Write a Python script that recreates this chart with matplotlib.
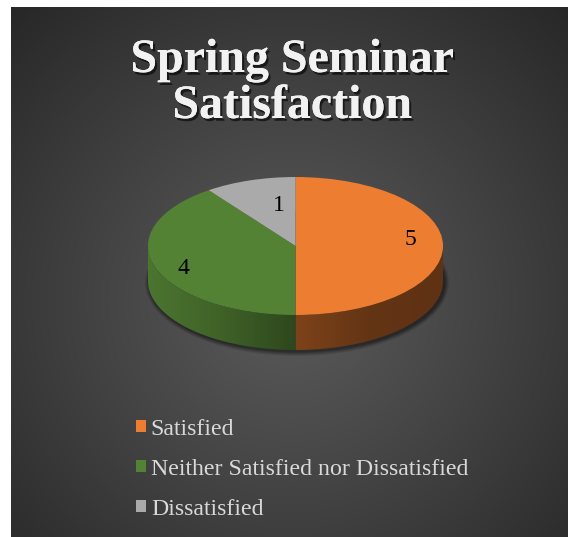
import numpy as np
import matplotlib
matplotlib.use("Agg")
import matplotlib.pyplot as plt
import matplotlib.patheffects as pe
from matplotlib.patches import Polygon, Ellipse, Rectangle
from matplotlib.colors import to_rgb
from matplotlib.font_manager import FontProperties, findfont

# data
categories = ["Satisfied", "Neither Satisfied nor Dissatisfied", "Dissatisfied"]
values = [5, 4, 1]
colors = ["#ED7D31", "#548235", "#AAAAAA"]
title_lines = ["Spring Seminar", "Satisfaction"]

W, H = 568, 537
serif_reg = findfont(FontProperties(family="Liberation Serif"))
serif_bold = findfont(FontProperties(family="Liberation Serif", weight="bold"))
fp_title = FontProperties(fname=serif_bold, size=34.5)
fp_label = FontProperties(fname=serif_reg, size=17)
fp_legend = FontProperties(fname=serif_reg, size=17.2)

fig = plt.figure(figsize=(W / 100, H / 100), dpi=100)
fig.patch.set_facecolor("white")

# background panel in pixel coordinates
bg = fig.add_axes([0, 0, 1, 1])
bg.set_xlim(0, W)
bg.set_ylim(H, 0)
bg.axis("off")
yy, xx = np.mgrid[0:H, 0:W]
d = np.sqrt((xx - 290) ** 2 + (yy - 300) ** 2)
t = np.clip(d / 420, 0, 1) ** 1.1
inner, outer = 0x5a / 255, 0x25 / 255
v = inner + (outer - inner) * t
img = np.dstack([v, v, v])
im = bg.imshow(img, extent=[0, W, H, 0], zorder=0)
panel = Rectangle((11, 7), W - 11, H - 7, transform=bg.transData, facecolor="none", edgecolor="none")
bg.add_patch(panel)
im.set_clip_path(panel)

# title
for txt, yb in zip(title_lines, [72, 118]):
    bg.text(292, yb, txt, ha="center", va="baseline", fontproperties=fp_title,
            color="#f2f2f2", zorder=5,
            path_effects=[pe.withSimplePatchShadow(offset=(1.5, -2), shadow_rgbFace="black", alpha=0.6),
                          pe.Normal()])

# pie axes: x in [-1, 1] maps to px 148..443, ry = 69 px, center y = 246 px
cx, cy, rx, ry = 295.5, 246, 147.5, 69
depth = 35 / ry
top_px, bot_px, left_px, right_px = 160, 372, 130, 461
ax = fig.add_axes([left_px / W, 1 - bot_px / H, (right_px - left_px) / W, (bot_px - top_px) / H])
xl = ((left_px - cx) / rx, (right_px - cx) / rx)
yl = (-(bot_px - cy) / ry, (cy - top_px) / ry)

# soft shadow under the pie
for k, a in enumerate([0.10, 0.12, 0.15, 0.2]):
    grow = 0.06 - k * 0.015
    ax.add_patch(Ellipse((0.01, -depth - 0.02), 2 + grow, 2 + grow * 2.2,
                         facecolor="black", alpha=a, edgecolor="none", zorder=1))

wedges, _ = ax.pie(values, colors=colors, startangle=90, counterclock=False,
                   radius=1, center=(0, 0), wedgeprops=dict(linewidth=0, zorder=4))
ax.set_aspect("auto")
ax.axis("off")

# side walls (front half only), shaded left-to-right
for w, col in zip(wedges, colors):
    a1, a2 = w.theta1 % 360, w.theta2 % 360
    if a2 <= a1:
        a2 += 360
    segs = []
    lo, hi = max(a1, 180), min(a2, 360)
    if lo < hi:
        segs.append((lo, hi))
    lo2, hi2 = max(a1, 540), min(a2, 720)
    if lo2 < hi2:
        segs.append((lo2 - 360, hi2 - 360))
    for s, e in segs:
        th = np.radians(np.linspace(s, e, 80))
        xs, ys = np.cos(th), np.sin(th)
        pts = np.vstack([np.column_stack([xs, ys]), np.column_stack([xs[::-1], ys[::-1] - depth])])
        poly = Polygon(pts, closed=True, facecolor="none", edgecolor="none", zorder=3)
        ax.add_patch(poly)
        gx = np.linspace(-1, 1, 200)
        if col == "#ED7D31":
            f = np.interp(gx, [0, 0.5, 1], [0.53, 0.42, 0.40])
        else:
            f = np.interp(gx, [-1, -0.5, 0], [0.9, 0.75, 0.55])
        base = np.array(to_rgb(col))
        grad = np.clip(f[None, :, None] * base[None, None, :], 0, 1)
        gi = ax.imshow(grad, extent=[-1, 1, -1 - depth, 0], aspect="auto", zorder=3)
        gi.set_clip_path(poly)
ax.set_xlim(*xl)
ax.set_ylim(*yl)

# value labels (radial distance + small pixel nudge like the original placement)
dists = [0.78, 0.78, 0.6]
nudges = [(0, 6), (-3, -6), (11, 1)]
for w, val, dd, (nx, ny) in zip(wedges, values, dists, nudges):
    mid = np.radians((w.theta1 + w.theta2) / 2)
    ax.text(dd * np.cos(mid) + nx / rx, dd * np.sin(mid) + ny / ry, str(val), ha="center", va="center",
            fontproperties=fp_label, color="black", zorder=6)

# legend
leg = fig.legend(wedges, categories, loc="upper left", bbox_to_anchor=(126 / W, 1 - 409 / H),
                 frameon=False, prop=fp_legend, handlelength=0.42, handleheight=0.42,
                 handletextpad=0.22, labelspacing=0.8, borderaxespad=0)
for txt in leg.get_texts():
    txt.set_color("#d9d9d9")

fig.savefig("out.png", dpi=100, facecolor=fig.get_facecolor())
